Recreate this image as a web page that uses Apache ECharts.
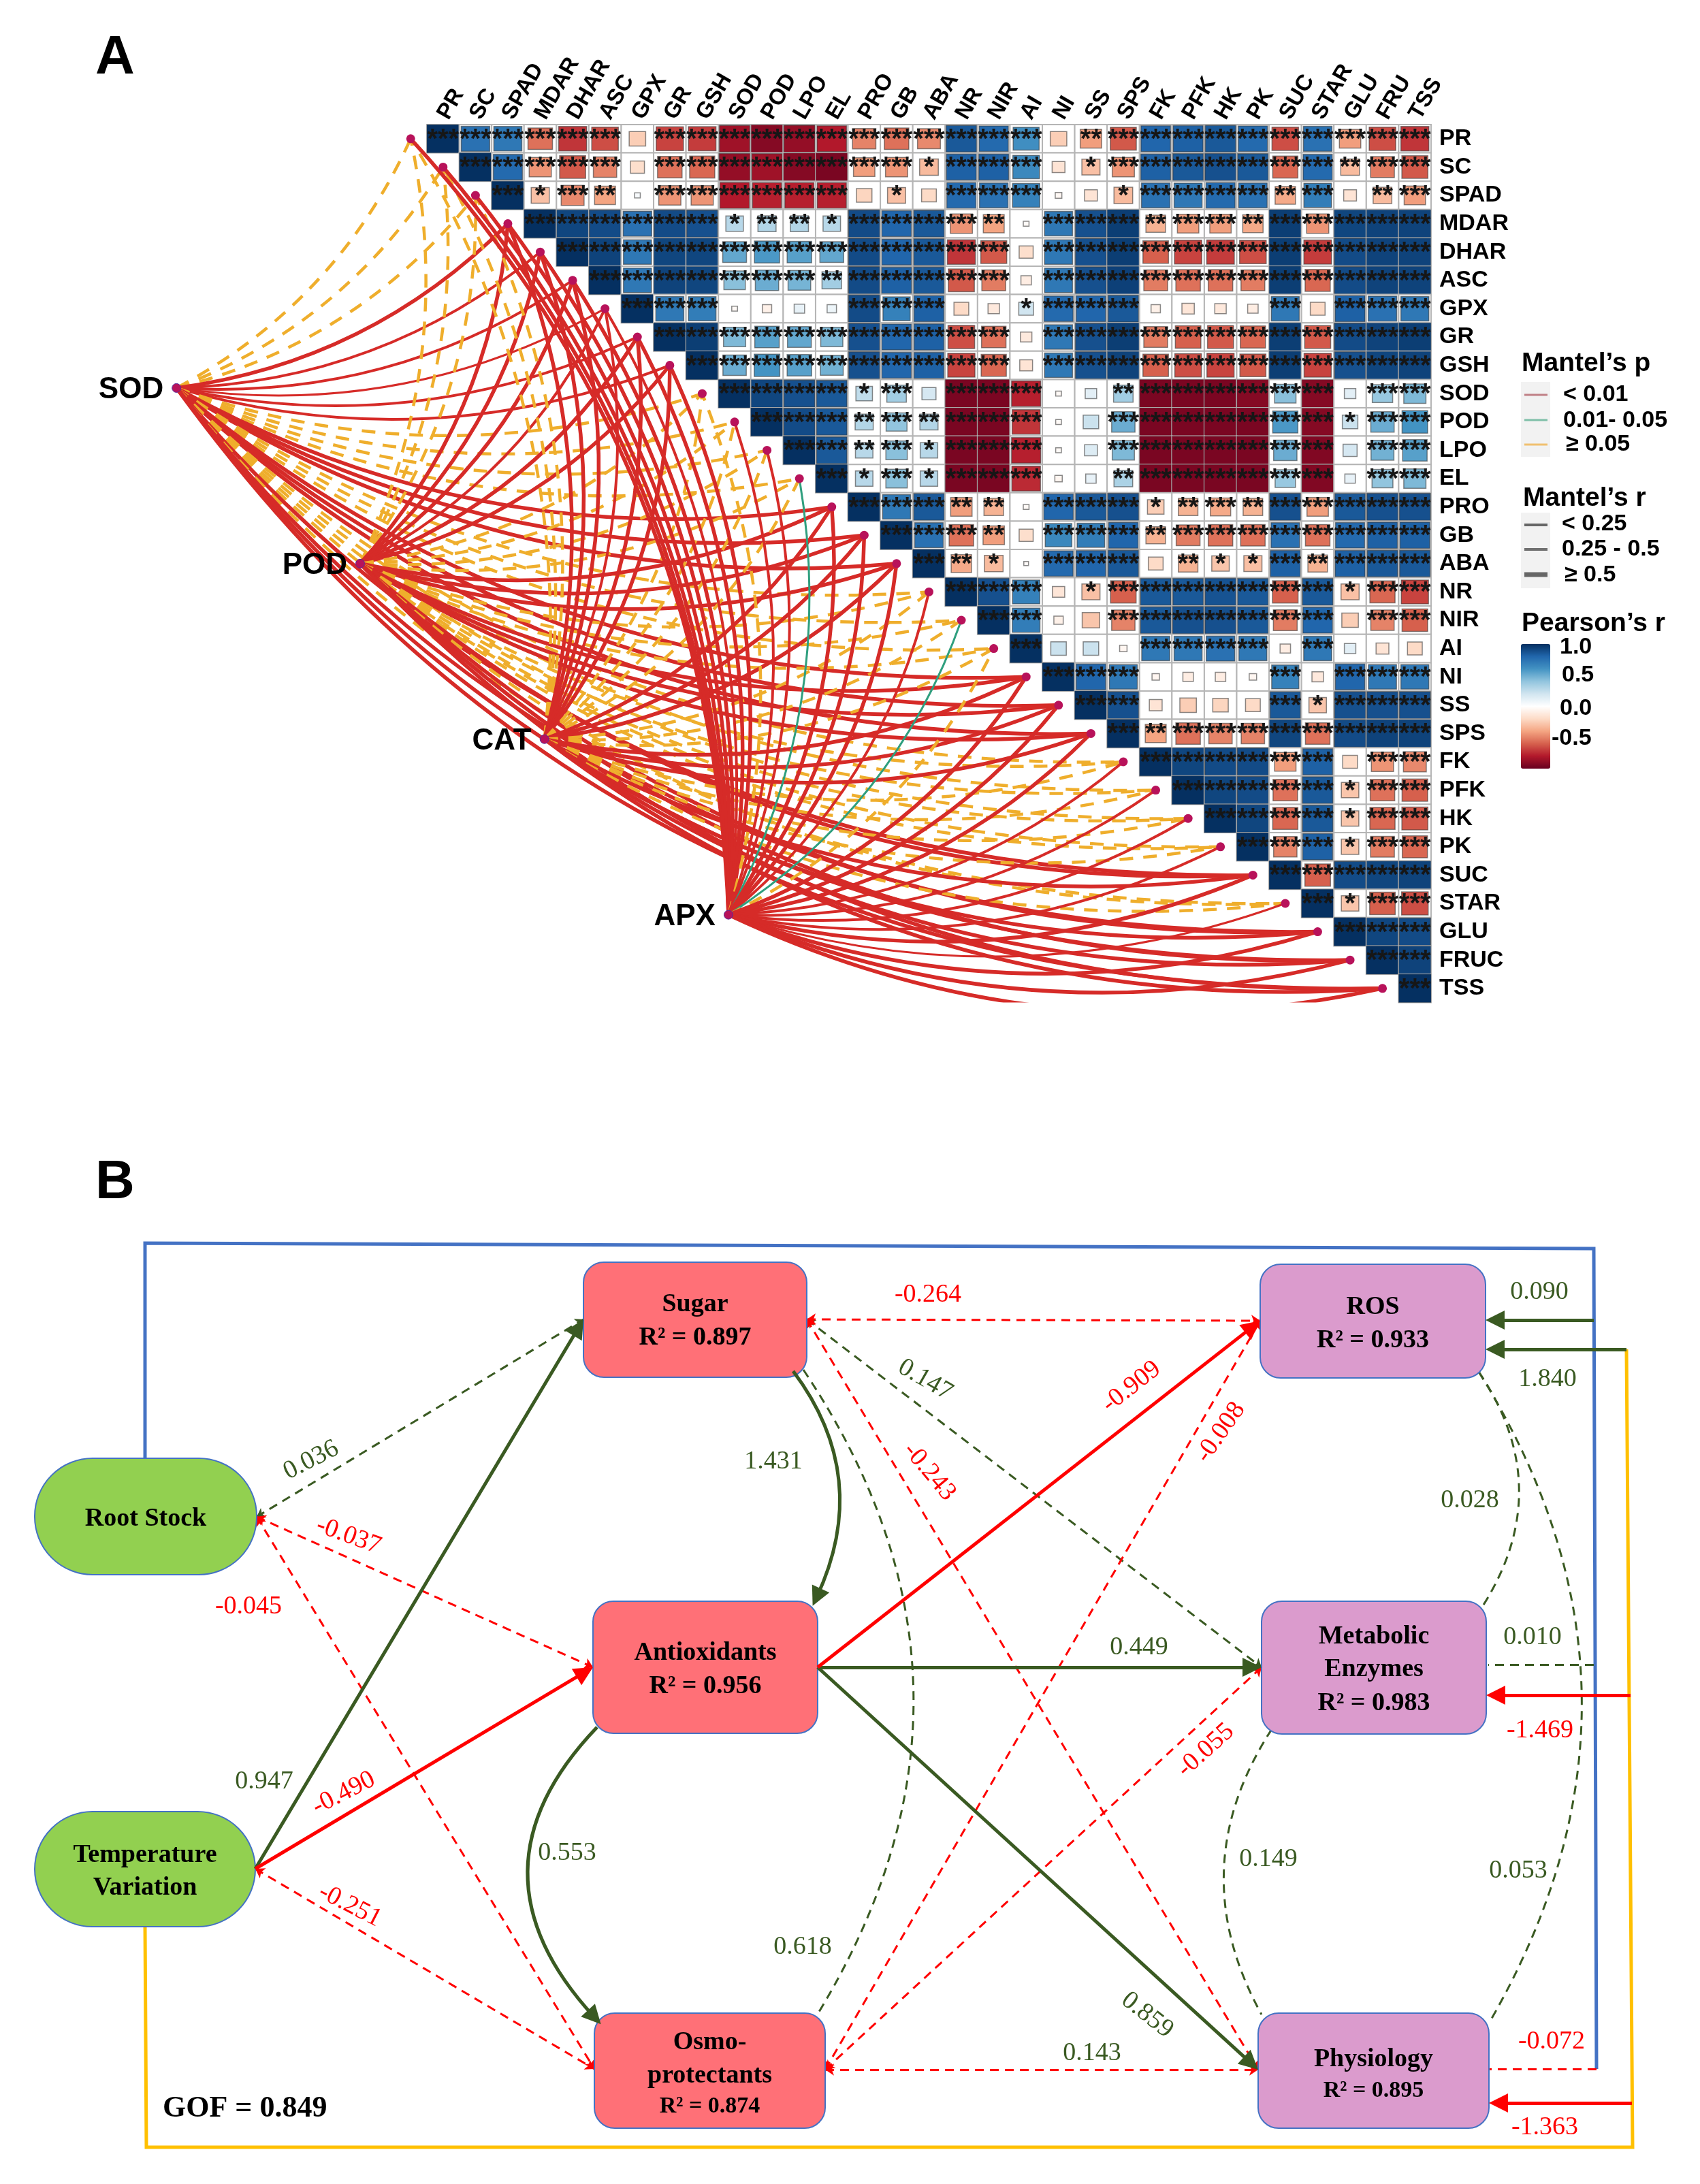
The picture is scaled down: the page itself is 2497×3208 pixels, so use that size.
<!DOCTYPE html>
<html><head><meta charset="utf-8">
<style>html,body{margin:0;padding:0;background:#fff}#c{width:2497px;height:3208px}</style>
<script src="https://cdn.jsdelivr.net/npm/echarts@6/dist/echarts.min.js"></script>
</head><body><div id="c"></div>
<script>
// ---------- Panel A data ----------
const colLabels = ['PR','SC','SPAD','MDAR','DHAR','ASC','GPX','GR','GSH','SOD','POD','LPO','EL','PRO','GB','ABA','NR','NIR','AI','NI','SS','SPS','FK','PFK','HK','PK','SUC','STAR','GLU','FRU','TSS'];
const rowLabels = ['PR','SC','SPAD','MDAR','DHAR','ASC','GPX','GR','GSH','SOD','POD','LPO','EL','PRO','GB','ABA','NR','NIR','AI','NI','SS','SPS','FK','PFK','HK','PK','SUC','STAR','GLU','FRUC','TSS'];

// Pearson's r, upper triangle: each row starts on the diagonal
const r_PR   = [1,.75,.72,-.55,-.72,-.65,-.25,-.68,-.7,-.85,-.92,-.88,-.8,-.5,-.55,-.48,.85,.78,.62,-.25,-.42,-.62,.8,.82,.85,.78,-.65,.75,-.42,-.65,-.72];
const r_SC   = [1,.78,-.45,-.62,-.5,-.18,-.55,-.58,-.88,-.85,-.92,-.95,-.42,-.45,-.32,.82,.82,.65,-.15,-.3,-.45,.82,.85,.88,.85,-.58,.78,-.32,-.52,-.62];
const r_SPAD = [1,-.3,-.48,-.4,.03,-.45,-.45,-.8,-.78,-.78,-.78,-.22,-.3,-.2,.78,.75,.68,-.04,-.15,-.32,.75,.72,.78,.75,-.38,.7,-.15,-.32,-.42];
const r_MDAR = [1,.92,.9,.75,.9,.88,.28,.3,.3,.28,.9,.8,.85,-.45,-.4,-.03,.72,.88,.95,-.35,-.42,-.42,-.38,.95,-.45,.92,.93,.93];
const r_DHAR = [1,.93,.72,.92,.92,.52,.58,.55,.52,.9,.8,.85,-.72,-.62,-.18,.72,.88,.95,-.6,-.68,-.7,-.65,.95,-.7,.9,.93,.93];
const r_ASC  = [1,.72,.93,.92,.42,.5,.47,.35,.9,.82,.85,-.62,-.52,-.1,.72,.88,.94,-.52,-.55,-.55,-.52,.95,-.58,.9,.93,.93];
const r_GPX  = [1,.72,.7,-.03,-.08,.1,.08,.9,.68,.82,-.2,-.12,.2,.78,.8,.85,-.08,-.14,-.12,-.1,.72,-.2,.82,.75,.72];
const r_GR   = [1,.95,.45,.55,.52,.45,.88,.8,.82,-.65,-.55,-.12,.72,.88,.95,-.52,-.6,-.62,-.58,.95,-.62,.9,.93,.95];
const r_GSH  = [1,.5,.6,.55,.48,.88,.8,.82,-.68,-.58,-.15,.72,.88,.93,-.6,-.65,-.68,-.62,.95,-.68,.88,.92,.93];
const r_SOD  = [1,.92,.88,.85,.25,.35,.18,-.95,-.95,-.78,-.03,.12,.35,-.95,-.95,-.95,-.92,.42,-.92,.12,.38,.45];
const r_POD  = [1,.9,.85,.3,.4,.3,-.95,-.95,-.72,-.03,.22,.5,-.95,-.95,-.95,-.95,.58,-.92,.22,.5,.6];
const r_LPO  = [1,.85,.28,.42,.28,-.95,-.95,-.78,-.03,.15,.45,-.95,-.95,-.95,-.95,.5,-.93,.18,.48,.55];
const r_EL   = [1,.28,.42,.28,-.95,-.95,-.75,-.05,.1,.32,-.95,-.95,-.95,-.95,.38,-.93,.1,.4,.45];
const r_PRO  = [1,.72,.85,-.42,-.35,-.03,.8,.85,.88,-.25,-.35,-.38,-.35,.88,-.42,.85,.88,.88];
const r_GB   = [1,.75,-.55,-.42,-.18,.65,.7,.8,-.35,-.52,-.55,-.55,.75,-.55,.78,.82,.82];
const r_ABA  = [1,-.38,-.32,-.02,.78,.8,.85,-.2,-.35,-.28,-.3,.82,-.35,.82,.85,.85];
const r_NR   = [1,.88,.68,-.14,-.3,-.6,.85,.85,.87,.85,-.6,.85,-.3,-.58,-.68];
const r_NIR  = [1,.7,-.08,-.28,-.5,.85,.88,.88,.85,-.52,.8,-.25,-.5,-.6];
const r_AI   = [1,.22,.22,-.05,.72,.72,.75,.72,-.1,.72,.12,-.15,-.2];
const r_NI   = [1,.8,.72,-.05,-.1,-.1,-.05,.68,-.12,.8,.72,.72];
const r_SS   = [1,.88,-.15,-.25,-.22,-.2,.85,-.28,.88,.88,.88];
const r_SPS  = [1,-.4,-.55,-.5,-.5,.92,-.55,.9,.93,.93];
const r_FK   = [1,.92,.9,.9,-.42,.82,-.2,-.45,-.48];
const r_PFK  = [1,.92,.9,-.55,.85,-.28,-.55,-.6];
const r_HK   = [1,.92,-.58,.85,-.28,-.58,-.62];
const r_PK   = [1,-.5,.82,-.28,-.52,-.58];
const r_SUC  = [1,-.6,.9,.92,.93];
const r_STAR = [1,-.28,-.6,-.65];
const r_GLU  = [1,.92,.9];
const r_FRU  = [1,.93];
const r_TSS  = [1];
const pearson = [r_PR,r_SC,r_SPAD,r_MDAR,r_DHAR,r_ASC,r_GPX,r_GR,r_GSH,r_SOD,r_POD,r_LPO,r_EL,r_PRO,r_GB,r_ABA,r_NR,r_NIR,r_AI,r_NI,r_SS,r_SPS,r_FK,r_PFK,r_HK,r_PK,r_SUC,r_STAR,r_GLU,r_FRU,r_TSS];

// significance stars per cell (count of *)
const s_PR   = [3,3,3,3,3,3,0,3,3,3,3,3,3,3,3,3,3,3,3,0,2,3,3,3,3,3,3,3,3,3,3];
const s_SC   = [3,3,3,3,3,0,3,3,3,3,3,3,3,3,1,3,3,3,0,1,3,3,3,3,3,3,3,2,3,3];
const s_SPAD = [3,1,3,2,0,3,3,3,3,3,3,0,1,0,3,3,3,0,0,1,3,3,3,3,2,3,0,2,3];
const s_MDAR = [3,3,3,3,3,3,1,2,2,1,3,3,3,3,2,0,3,3,3,2,3,3,2,3,3,3,3,3];
const s_DHAR = [3,3,3,3,3,3,3,3,3,3,3,3,3,3,0,3,3,3,3,3,3,3,3,3,3,3,3];
const s_ASC  = [3,3,3,3,3,3,3,2,3,3,3,3,3,0,3,3,3,3,3,3,3,3,3,3,3,3];
const s_GPX  = [3,3,3,0,0,0,0,3,3,3,0,0,1,3,3,3,0,0,0,0,3,0,3,3,3];
const s_GR   = [3,3,3,3,3,3,3,3,3,3,3,0,3,3,3,3,3,3,3,3,3,3,3,3];
const s_GSH  = [3,3,3,3,3,3,3,3,3,3,0,3,3,3,3,3,3,3,3,3,3,3,3];
const s_SOD  = [3,3,3,3,1,3,0,3,3,3,0,0,2,3,3,3,3,3,3,0,3,3];
const s_POD  = [3,3,3,2,3,2,3,3,3,0,0,3,3,3,3,3,3,3,1,3,3];
const s_LPO  = [3,3,2,3,1,3,3,3,0,0,3,3,3,3,3,3,3,0,3,3];
const s_EL   = [3,1,3,1,3,3,3,0,0,2,3,3,3,3,3,3,0,3,3];
const s_PRO  = [3,3,3,2,2,0,3,3,3,1,2,3,2,3,3,3,3,3];
const s_GB   = [3,3,3,2,0,3,3,3,2,3,3,3,3,3,3,3,3];
const s_ABA  = [3,2,1,0,3,3,3,0,2,1,1,3,2,3,3,3];
const s_NR   = [3,3,3,0,1,3,3,3,3,3,3,3,1,3,3];
const s_NIR  = [3,3,0,0,3,3,3,3,3,3,3,0,3,3];
const s_AI   = [3,0,0,0,3,3,3,3,0,3,0,0,0];
const s_NI   = [3,3,3,0,0,0,0,3,0,3,3,3];
const s_SS   = [3,3,0,0,0,0,3,1,3,3,3];
const s_SPS  = [3,2,3,3,3,3,3,3,3,3];
const s_FK   = [3,3,3,3,3,3,0,3,3];
const s_PFK  = [3,3,3,3,3,1,3,3];
const s_HK   = [3,3,3,3,1,3,3];
const s_PK   = [3,3,3,1,3,3];
const s_SUC  = [3,3,3,3,3];
const s_STAR = [3,1,3,3];
const s_GLU  = [3,3,3];
const s_FRU  = [3,3];
const s_TSS  = [3];
const stars = [s_PR,s_SC,s_SPAD,s_MDAR,s_DHAR,s_ASC,s_GPX,s_GR,s_GSH,s_SOD,s_POD,s_LPO,s_EL,s_PRO,s_GB,s_ABA,s_NR,s_NIR,s_AI,s_NI,s_SS,s_SPS,s_FK,s_PFK,s_HK,s_PK,s_SUC,s_STAR,s_GLU,s_FRU,s_TSS];

// Mantel links: p class per target (0 <0.01, 1 0.01-0.05, 2 >=0.05)
const mantelP_SOD = [2,2,2,0,0,0,0,0,0,2,2,2,2,0,0,0,2,2,2,0,0,0,2,2,2,2,0,2,0,0,0];
const mantelP_POD = [2,2,2,0,0,0,0,0,0,2,2,2,2,0,0,0,2,2,2,0,0,0,2,2,2,2,0,2,0,0,0];
const mantelP_CAT = [2,2,2,0,0,0,0,0,0,2,2,2,2,0,0,0,2,2,2,0,0,0,2,2,2,2,0,2,0,0,0];
const mantelP_APX = [0,0,0,0,0,0,0,0,0,2,0,0,1,0,0,0,0,1,2,0,0,0,0,0,0,0,0,0,0,0,0];
// Mantel r class per target (0 <0.25, 1 0.25-0.5, 2 >=0.5)
const mantelR_SOD = [0,0,0,2,1,1,0,1,1,0,0,0,0,2,2,2,0,0,0,2,2,2,0,0,0,0,2,0,2,2,2];
const mantelR_POD = [0,0,0,2,2,2,1,2,2,0,0,0,0,2,2,2,0,0,0,2,2,2,0,0,0,0,2,0,2,2,2];
const mantelR_CAT = [0,0,0,2,2,2,1,2,2,0,0,0,0,2,2,2,0,0,0,2,2,2,0,0,0,0,2,0,2,2,2];
const mantelR_APX = [2,2,2,2,2,2,1,2,2,0,1,1,0,2,2,2,1,0,0,2,2,2,1,1,1,1,2,0,2,2,2];
const anchorNames = ['SOD','POD','CAT','APX'];
const mantelP = [mantelP_SOD,mantelP_POD,mantelP_CAT,mantelP_APX];
const mantelR = [mantelR_SOD,mantelR_POD,mantelR_CAT,mantelR_APX];

// ---------- Panel B data ----------
const nodeNames = ['Root Stock','Temperature Variation','Sugar','Antioxidants','Osmo-protectants','ROS','Metabolic Enzymes','Physiology'];
const nodeR2 = [null,null,0.897,0.956,0.874,0.933,0.983,0.895];
const pathFrom = ['Root Stock','Root Stock','Root Stock','Temperature Variation','Temperature Variation','Temperature Variation','Sugar','Sugar','Sugar','Sugar','Sugar','Antioxidants','Antioxidants','Antioxidants','Antioxidants','Osmo-protectants','Osmo-protectants','Osmo-protectants','ROS','ROS','Metabolic Enzymes'];
const pathTo   = ['Sugar','Antioxidants','Osmo-protectants','Sugar','Antioxidants','Osmo-protectants','Antioxidants','ROS','Metabolic Enzymes','Physiology','Osmo-protectants','ROS','Metabolic Enzymes','Physiology','Osmo-protectants','ROS','Metabolic Enzymes','Physiology','Metabolic Enzymes','Physiology','Physiology'];
const pathCoef = [0.036,-0.037,-0.045,0.947,-0.490,-0.251,1.431,-0.264,0.147,-0.243,0.618,-0.909,0.449,0.859,0.553,-0.008,-0.055,0.143,0.028,0.053,0.149];
const pathSignificant = [0,0,0,1,1,0,1,0,0,0,0,1,1,1,1,0,0,0,0,0,0];
const pathDrawnRed = [0,1,1,0,1,1,0,1,0,1,0,1,0,0,0,1,1,1,0,0,0];
const gof = 0.849;
const externalCoef = [0.090,1.840,0.010,-1.469,-0.072,-1.363];
const externalSignificant = [1,1,0,1,0,1];

// ---------- Layout & style ----------
const CELLW=47.58, CELLH=41.6, HX=627, HY=183;
const FONT='"Liberation Sans",Arial,sans-serif', SERIF='"Liberation Serif","Times New Roman",serif';
const anchorPos=[[-7.73,9.3],[-2.06,15.5],[3.63,21.7],[9.31,27.9]];
const rowLabelShift={GR:4,GLU:6,FRUC:8,TSS:6,PR:2,FK:3};
const nodeBox={ // x0,y0,x1,y1,radius,fill
 'Root Stock':[51,2142,377,2313,85,'#92D050'],
 'Temperature Variation':[51,2661,375,2830,85,'#92D050'],
 'Sugar':[857,1854,1185,2023,30,'#FF7077'],
 'Antioxidants':[871,2352,1201,2546,30,'#FF7077'],
 'Osmo-protectants':[873,2957,1212,3126,30,'#FF7077'],
 'ROS':[1851,1857,2182,2024,30,'#DB9BCD'],
 'Metabolic Enzymes':[1853,2352,2183,2547,30,'#DB9BCD'],
 'Physiology':[1848,2957,2187,3126,30,'#DB9BCD']};
const nodeLines={
 'Root Stock':[['Root Stock',2231,38]],
 'Temperature Variation':[['Temperature',2725,38],['Variation',2773,38]],
 'Sugar':[['Sugar',1916,38],['R² = 0.897',1965,38]],
 'Antioxidants':[['Antioxidants',2428,38],['R² = 0.956',2477,38]],
 'Osmo-protectants':[['Osmo-',3000,38],['protectants',3049,38],['R² = 0.874',3094,34]],
 'ROS':[['ROS',1920,38],['R² = 0.933',1969,38]],
 'Metabolic Enzymes':[['Metabolic',2404,38],['Enzymes',2452,38],['R² = 0.983',2502,38]],
 'Physiology':[['Physiology',3025,38],['R² = 0.895',3071,34]]};
// geometry of each path in panel B: start, end, curveness, label x, y, rotation
const pathGeom=[
 [[377,2228],[857,1938],0,457,2145,27],
 [[377,2228],[871,2449],0,512,2256,-20],
 [[377,2228],[873,3039],0,365,2360,0],
 [[375,2745],[857,1938],0,388,2617,0],
 [[375,2745],[871,2449],0,505,2634,27],
 [[375,2745],[873,3039],0,514,2799,-27],
 [[1165,2014],[1201,2360],.30,1136,2147,0],
 [[1185,1938],[1851,1940],0,1363,1902,0],
 [[1185,1938],[1853,2449],0,1359,2027,-30],
 [[1185,1938],[1848,3040],0,1365,2162,-50],
 [[1180,2012],[1200,2960],.32,1179,2860,0],
 [[1201,2449],[1851,1940],0,1662,2037,38],
 [[1201,2449],[1853,2449],0,1673,2420,0],
 [[1201,2449],[1848,3040],0,1685,2960,-38],
 [[877,2537],[873,2977],-.47,833,2722,0],
 [[1212,3040],[1851,1940],0,1793,2104,55],
 [[1212,3040],[1853,2449],0,1771,2571,42],
 [[1212,3040],[1848,3040],0,1604,3016,0],
 [[2172,2015],[2176,2362],.33,2159,2204,0],
 [[2172,2015],[2188,2970],.30,2230,2748,0],
 [[1868,2540],[1853,2959],-.30,1863,2731,0]];
const externalGeom=[
 [[2341,1939],[2182,1939],2261,1898],
 [[2389,1982],[2182,1982],2273,2026],
 [[2341,2445],[2186,2445],2251,2405],
 [[2395,2490],[2183,2490],2262,2542],
 [[2345,3039],[2187,3039],2279,2999],
 [[2397,3089],[2187,3089],2269,3125]];
const frameBlue=[[213,2142],[213,1826],[2341,1834],[2345,3039]];
const frameYellow=[[213,2830],[215,3154],[2398,3154],[2389,1982]];
const DGREEN='#3A5A22', RED='#FF0000';
const rdbu=['#67001F','#B2182B','#D6604D','#F4A582','#FDDBC7','#FFFFFF','#D1E5F0','#92C5DE','#4393C3','#2166AC','#053061'];
const pColor=['#D62B28','#2F9F7E','#EFAE2C'];
const solidW=[3,4,5.5], dashW=[4.5,4.5,4.5];
const ARROW=28;

// ---------- build ----------
const cells=[];
pearson.forEach((row,i)=>row.forEach((v,k)=>cells.push([i+k,i,v,stars[i][k]])));
const targets=colLabels.map((_,i)=>[i-0.5,i+0.5]);
function mantelCurve(a,t){
  const d=Math.hypot((anchorPos[a][0]-targets[t][0])*CELLW,(anchorPos[a][1]-targets[t][1])*CELLH);
  return -(0.17+Math.max(0,(d-1100)/880)*0.09);
}
const links=[];
mantelP.forEach((ps,a)=>ps.forEach((p,t)=>links.push({
  coords:[anchorPos[a],targets[t]],
  lineStyle:{color:pColor[p],width:p===2?dashW[mantelR[a][t]]:solidW[mantelR[a][t]],type:p===2?[20,15]:'solid',curveness:mantelCurve(a,t),opacity:1}
})));
function pullBack(a,b,px){const d=Math.hypot(b[0]-a[0],b[1]-a[1]);return [b[0]-(b[0]-a[0])/d*px,b[1]-(b[1]-a[1])/d*px];}
const sets={sg:[],sr:[],dg:[],dr:[],cg:[]};
pathCoef.forEach((v,i)=>{
  const g=pathGeom[i],sig=pathSignificant[i],red=pathDrawnRed[i];
  if(sig) (red?sets.sr:sets.sg).push({coords:[g[0],pullBack(g[0],g[1],ARROW/2)],lineStyle:{curveness:g[2]}});
  else if(g[2]) sets.cg.push({coords:[g[0],g[1]],lineStyle:{curveness:g[2]}});
  else (red?sets.dr:sets.dg).push({coords:[g[0],g[1]]});
});
externalCoef.forEach((v,i)=>{
  const g=externalGeom[i];
  if(externalSignificant[i]) (v<0?sets.sr:sets.sg).push({coords:[g[0],pullBack(g[0],g[1],ARROW/2)]});
  else (v<0?sets.cr=sets.cr||[]:sets.cg).push({coords:[g[0],g[1]]});
});
const pathLabels=pathCoef.map((v,i)=>({text:v.toFixed(3),x:pathGeom[i][3],y:pathGeom[i][4],rot:pathGeom[i][5],color:v<0?RED:DGREEN}));
externalCoef.forEach((v,i)=>pathLabels.push({text:v.toFixed(3),x:externalGeom[i][2],y:externalGeom[i][3],rot:0,color:v<0?RED:DGREEN}));

function edgeSeries(name,data,color,width,dashed,sym,arrowSize,z){
  return {type:'lines',name,coordinateSystem:'cartesian2d',xAxisIndex:2,yAxisIndex:2,z:z||5,
    symbol:sym,symbolSize:arrowSize,silent:true,
    lineStyle:{color,width,type:dashed?[13,9]:'solid',opacity:1},data};
}
const opt={
 animation:false,backgroundColor:'#fff',
 grid:[
  {left:HX,top:HY,width:CELLW*31,height:CELLH*31,containLabel:false},
  {left:HX-CELLW*10,top:HY,width:CELLW*41,height:CELLH*31},
  {left:0,top:1700,width:2497,height:1508}],
 xAxis:[
  {type:'category',gridIndex:0,position:'top',data:colLabels,axisLine:{show:false},axisTick:{show:false},splitLine:{show:false},
   axisLabel:{interval:0,rotate:-60,margin:10,fontFamily:FONT,fontWeight:'bold',fontSize:33,color:'#000'}},
  {type:'value',gridIndex:1,min:-10,max:31,show:false},
  {type:'value',gridIndex:2,min:0,max:2497,show:false}],
 yAxis:[
  {type:'category',gridIndex:0,position:'right',inverse:true,
   data:rowLabels.map(n=>({value:n,textStyle:{padding:[2*(2+(rowLabelShift[n]||0)),0,0,0]}})),
   axisLine:{show:false},axisTick:{show:false},splitLine:{show:false},
   axisLabel:{interval:0,margin:12,fontFamily:FONT,fontWeight:'bold',fontSize:34,color:'#000'}},
  {type:'value',gridIndex:1,min:0,max:31,inverse:true,show:false},
  {type:'value',gridIndex:2,min:1700,max:3208,inverse:true,show:false}],
 visualMap:{type:'continuous',min:-1,max:1,seriesIndex:0,dimension:2,left:2234,top:946,padding:0,itemWidth:43,itemHeight:183,
   text:null,showLabel:false,calculable:false,hoverLink:false,inRange:{color:rdbu}},
 series:[
  {type:'custom',name:"Pearson's r",xAxisIndex:0,yAxisIndex:0,silent:true,z:2,clip:false,encode:{x:0,y:1},data:cells,
   renderItem(params,api){
    const c=api.coord([api.value(0),api.value(1)]),sz=api.size([1,1]),v=api.value(2),n=api.value(3);
    const k=Math.min(1,Math.sqrt(Math.abs(v))*1.02);
    const w=sz[0]*k,h=sz[1]*k;
    const kids=[
     {type:'rect',shape:{x:c[0]-sz[0]/2,y:c[1]-sz[1]/2,width:sz[0],height:sz[1]},style:{fill:'#fff',stroke:'#b5b5b5',lineWidth:2}},
     {type:'rect',shape:{x:c[0]-w/2,y:c[1]-h/2,width:w,height:h},style:{fill:api.visual('color'),stroke:k<0.97?'rgba(60,60,60,.6)':'rgba(90,90,90,.35)',lineWidth:k<0.97?1.5:1}}];
    if(n>0)kids.push({type:'text',x:c[0],y:c[1]+2,style:{text:'*'.repeat(n),align:'center',verticalAlign:'middle',font:'bold 40px '+FONT,fill:'#161616'},z2:5});
    return {type:'group',children:kids};
   }},
  {type:'lines',name:'Mantel',coordinateSystem:'cartesian2d',xAxisIndex:1,yAxisIndex:1,z:3,silent:true,clip:true,symbol:['none','none'],data:links},
  {type:'scatter',name:'targets',xAxisIndex:1,yAxisIndex:1,z:6,silent:true,symbolSize:13,itemStyle:{color:'#B8125A',opacity:1},data:targets},
  {type:'scatter',name:'anchors',xAxisIndex:1,yAxisIndex:1,z:6,silent:true,symbolSize:13,itemStyle:{color:'#B8125A',borderColor:'#5a2a9a',borderWidth:1,opacity:1},
   label:{show:true,position:'left',distance:12,offset:[0,3],formatter:'{b}',fontFamily:FONT,fontWeight:'bold',fontSize:44,color:'#000'},
   data:anchorNames.map((n,i)=>({name:n,value:anchorPos[i]}))},
  // panel B frames
  {type:'lines',name:'frame blue',coordinateSystem:'cartesian2d',xAxisIndex:2,yAxisIndex:2,z:4,polyline:true,silent:true,lineStyle:{color:'#4472C4',width:5,opacity:1},data:[{coords:frameBlue}]},
  {type:'lines',name:'frame yellow',coordinateSystem:'cartesian2d',xAxisIndex:2,yAxisIndex:2,z:4,polyline:true,silent:true,lineStyle:{color:'#FFC000',width:5,opacity:1},data:[{coords:frameYellow}]},
  edgeSeries('dashed green',sets.dg,DGREEN,3,true,['arrow','arrow'],12),
  edgeSeries('dashed red',sets.dr,RED,3,true,['arrow','arrow'],13),
  edgeSeries('dashed curves',sets.cg,DGREEN,3,true,['none','none'],1),
  edgeSeries('stub red',sets.cr||[],RED,3,true,['none','none'],1),
  edgeSeries('solid green',sets.sg,DGREEN,5,false,['none','triangle'],ARROW,9),
  edgeSeries('solid red',sets.sr,RED,5,false,['none','triangle'],ARROW,9),
  {type:'custom',name:'nodes',xAxisIndex:2,yAxisIndex:2,z:7,silent:true,clip:false,encode:{x:0,y:1},
   data:nodeNames.map(n=>[nodeBox[n][0],nodeBox[n][1]]),
   renderItem(params,api){
    const n=nodeNames[params.dataIndex],b=nodeBox[n];
    const p0=api.coord([b[0],b[1]]),p1=api.coord([b[2],b[3]]);
    const kids=[{type:'rect',shape:{x:p0[0],y:p0[1],width:p1[0]-p0[0],height:p1[1]-p0[1],r:b[4]},style:{fill:b[5],stroke:'#4472C4',lineWidth:2}}];
    nodeLines[n].forEach(l=>{const q=api.coord([(b[0]+b[2])/2,l[1]]);kids.push({type:'text',x:q[0],y:q[1],z2:5,style:{text:l[0],align:'center',verticalAlign:'middle',font:'bold '+l[2]+'px '+SERIF,fill:'#000'}});});
    return {type:'group',children:kids};
   }},
  {type:'custom',name:'path labels',xAxisIndex:2,yAxisIndex:2,z:8,silent:true,clip:false,encode:{x:0,y:1},
   data:pathLabels.map(l=>[l.x,l.y]),
   renderItem(params,api){
    const l=pathLabels[params.dataIndex],c=api.coord([api.value(0),api.value(1)]);
    return {type:'text',x:c[0],y:c[1],rotation:l.rot*Math.PI/180,style:{text:l.text,align:'center',verticalAlign:'middle',font:'38px '+SERIF,fill:l.color}};
   }}
 ],
 graphic:{elements:[
  {type:'text',left:140,top:46,style:{text:'A',font:'bold 80px '+FONT,fill:'#000'}},
  {type:'text',left:140,top:1698,style:{text:'B',font:'bold 80px '+FONT,fill:'#000'}},
  {type:'text',left:239,top:3076,style:{text:'GOF = '+gof.toFixed(3),font:'bold 44px '+SERIF,fill:'#000'}},
  {type:'text',x:2235,y:534,style:{text:'Mantel’s p',font:'bold 39px '+FONT,fill:'#000',verticalAlign:'middle'}},
  {type:'rect',shape:{x:2234,y:561,width:43,height:110},style:{fill:'#F2F2F2'}},
  {type:'line',shape:{x1:2239,y1:580,x2:2273,y2:580},style:{stroke:'#C08086',lineWidth:3}},
  {type:'line',shape:{x1:2239,y1:617,x2:2273,y2:617},style:{stroke:'#7FBFA8',lineWidth:3}},
  {type:'line',shape:{x1:2239,y1:653,x2:2273,y2:653},style:{stroke:'#F0C070',lineWidth:3}},
  {type:'text',x:2296,y:580,style:{text:'< 0.01',font:'bold 34px '+FONT,fill:'#000',verticalAlign:'middle'}},
  {type:'text',x:2296,y:618,style:{text:'0.01- 0.05',font:'bold 34px '+FONT,fill:'#000',verticalAlign:'middle'}},
  {type:'text',x:2300,y:653,style:{text:'≥ 0.05',font:'bold 34px '+FONT,fill:'#000',verticalAlign:'middle'}},
  {type:'text',x:2237,y:732,style:{text:'Mantel’s r',font:'bold 39px '+FONT,fill:'#000',verticalAlign:'middle'}},
  {type:'rect',shape:{x:2234,y:753,width:43,height:111},style:{fill:'#F2F2F2'}},
  {type:'line',shape:{x1:2239,y1:771,x2:2273,y2:771},style:{stroke:'#666',lineWidth:4}},
  {type:'line',shape:{x1:2239,y1:807,x2:2273,y2:807},style:{stroke:'#707070',lineWidth:4}},
  {type:'line',shape:{x1:2239,y1:844,x2:2273,y2:844},style:{stroke:'#666',lineWidth:7}},
  {type:'text',x:2294,y:770,style:{text:'< 0.25',font:'bold 34px '+FONT,fill:'#000',verticalAlign:'middle'}},
  {type:'text',x:2294,y:807,style:{text:'0.25 - 0.5',font:'bold 34px '+FONT,fill:'#000',verticalAlign:'middle'}},
  {type:'text',x:2298,y:845,style:{text:'≥ 0.5',font:'bold 34px '+FONT,fill:'#000',verticalAlign:'middle'}},
  {type:'text',x:2235,y:916,style:{text:'Pearson’s r',font:'bold 39px '+FONT,fill:'#000',verticalAlign:'middle'}},
  {type:'text',x:2291,y:951,style:{text:'1.0',font:'bold 34px '+FONT,fill:'#000',verticalAlign:'middle'}},
  {type:'text',x:2294,y:992,style:{text:'0.5',font:'bold 34px '+FONT,fill:'#000',verticalAlign:'middle'}},
  {type:'text',x:2291,y:1041,style:{text:'0.0',font:'bold 34px '+FONT,fill:'#000',verticalAlign:'middle'}},
  {type:'text',x:2279,y:1085,style:{text:'-0.5',font:'bold 34px '+FONT,fill:'#000',verticalAlign:'middle'}}
 ]}
};
const chart=echarts.init(document.getElementById('c'),null,{renderer:'canvas',devicePixelRatio:1,width:2497,height:3208});
chart.setOption(opt);
</script></body></html>
